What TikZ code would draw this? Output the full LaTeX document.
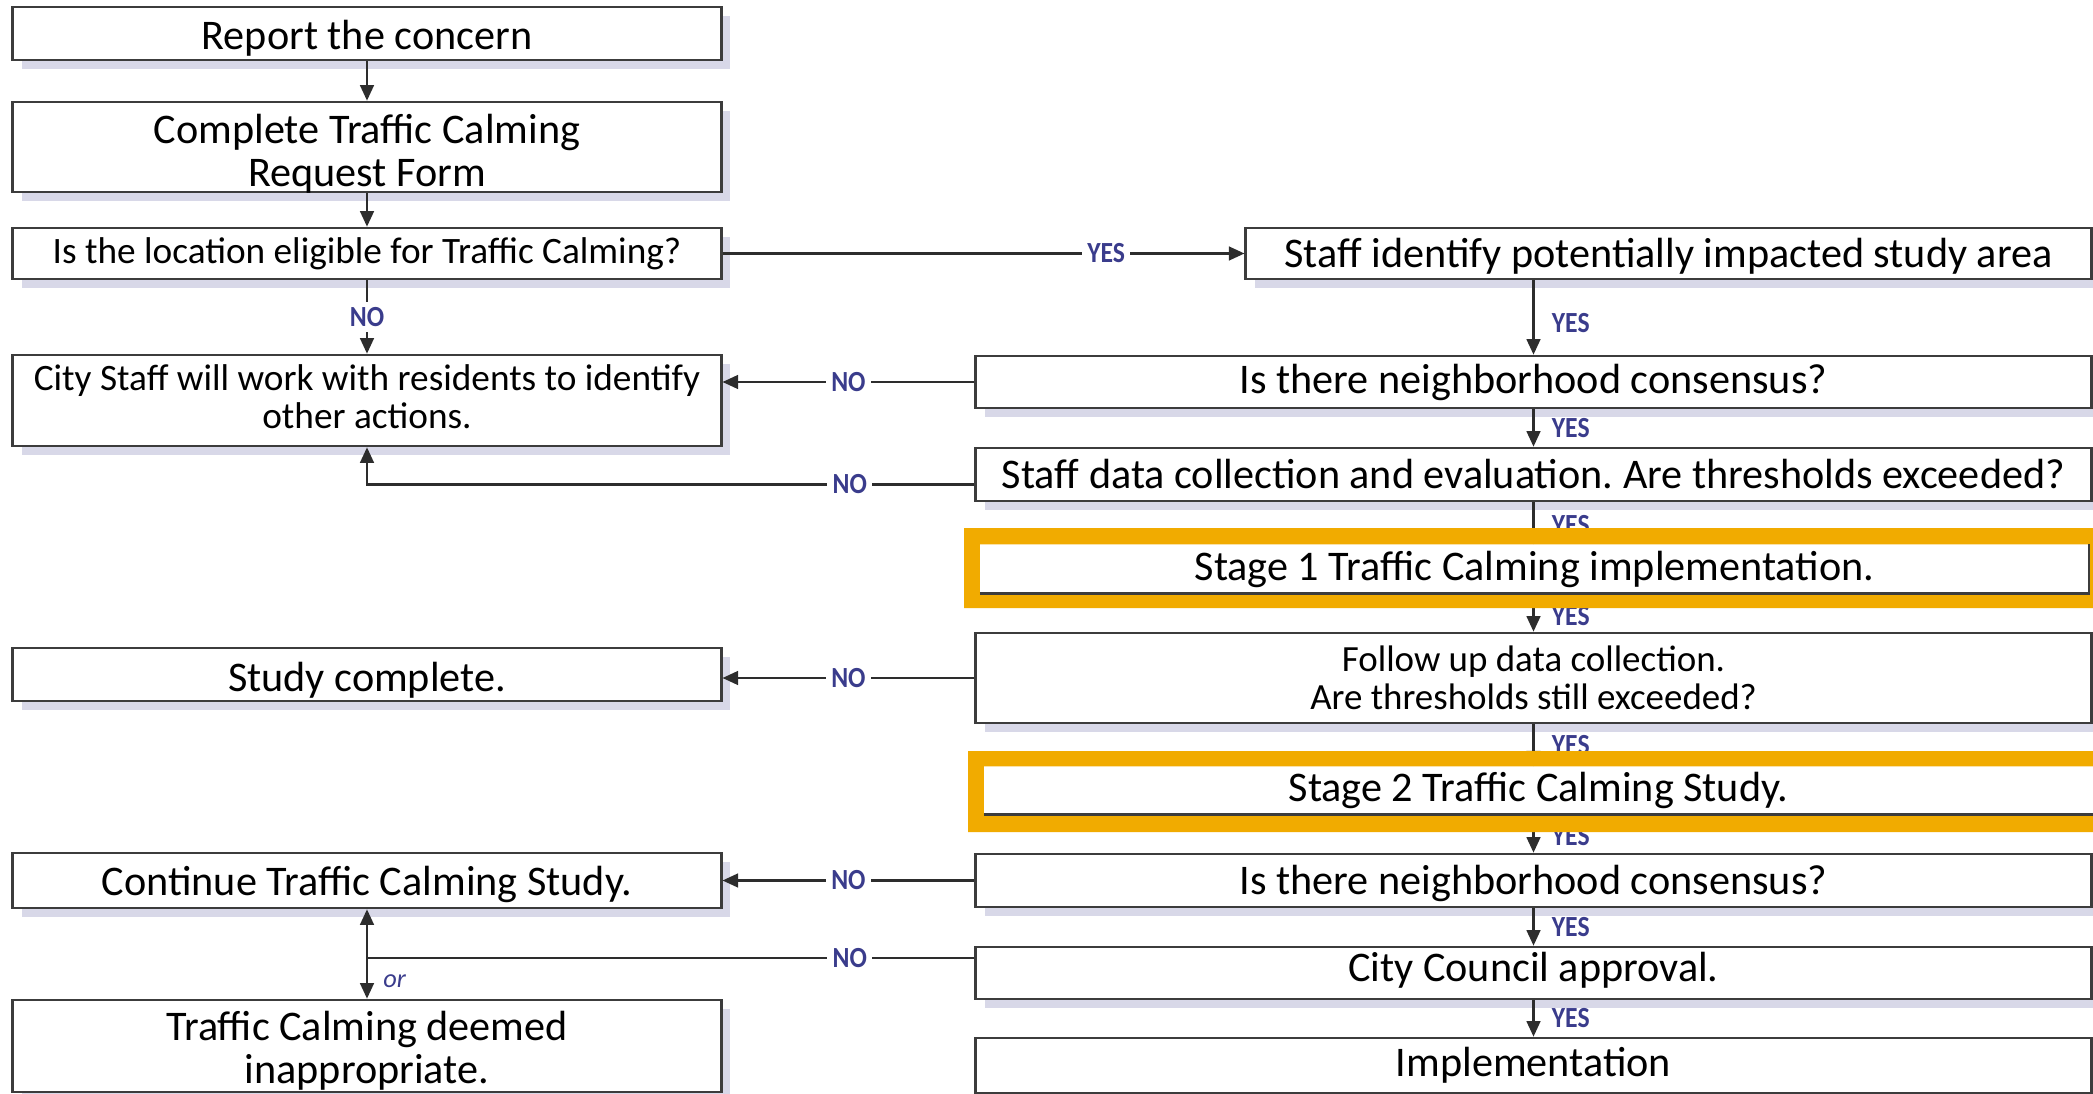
\documentclass[tikz,border=0pt]{standalone}
\usepackage{fontspec}
\setmainfont{Carlito}
\newfontfamily\labfont[FakeStretch=0.88]{Carlito}
\usetikzlibrary{arrows.meta,shadows}
\definecolor{bordc}{RGB}{60,60,60}
\definecolor{linec}{RGB}{45,45,45}
\definecolor{shadowc}{RGB}{216,216,232}
\definecolor{labc}{RGB}{58,60,140}
\definecolor{orangec}{RGB}{241,171,0}
\newcommand{\lw}[2]{\raisebox{#1}[\height][\depth]{#2}}
\frenchspacing
\begin{document}
\begin{tikzpicture}[x=0.01cm,y=-0.01cm,
  box/.style={draw=bordc, line width=0.75pt, fill=white, inner sep=0pt, align=center,
    general shadow={fill=shadowc, shadow xshift=0.09cm, shadow yshift=-0.09cm}},
  big/.style={font=\fontsize{12}{12.3}\selectfont},
  small/.style={font=\fontsize{10.6}{10.7}\selectfont},
  conn/.style={draw=linec, line width=0.6pt},
  arr/.style={conn, -{Triangle[length=4.4pt,width=3.9pt]}},
  lab/.style={text=labc, font=\fontsize{8.3}{9}\labfont\bfseries, inner sep=1.5pt},
  gap/.style={lab, fill=white},
  rlab/.style={lab, anchor=west, xshift=0.12cm},
  stagebox/.style={fill=white, inner sep=0pt, font=\fontsize{12}{12.3}\selectfont},
]
\useasboundingbox (0,0) rectangle (2093,1094);
\clip (0,0) rectangle (2093,1094);

% left column
\node[box,big,minimum width=7.08cm,minimum height=0.53cm] (b1) at (367,33.5) {\lw{-0.05cm}{Report the concern}};
\node[box,big,minimum width=7.08cm,minimum height=0.90cm] (b2) at (367,147) {\lw{-0.065cm}{Complete Traffic Calming}\\\lw{-0.065cm}{Request Form}};
\node[box,small,minimum width=7.08cm,minimum height=0.51cm] (b3) at (367,253.5) {Is the location eligible for Traffic Calming?};
\node[box,small,minimum width=7.08cm,minimum height=0.91cm] (b4) at (367,400.5) {\lw{0.04cm}{City Staff will work with residents to identify}\\\lw{0.04cm}{other actions.}};
\node[box,big,minimum width=7.08cm,minimum height=0.53cm] (bs) at (367,674.5) {\lw{-0.06cm}{Study complete.}};
\node[box,big,minimum width=7.08cm,minimum height=0.55cm] (bc) at (367,880.5) {\lw{-0.04cm}{Continue Traffic Calming Study.}};
\node[box,big,minimum width=7.08cm,minimum height=0.92cm] (bt) at (367,1046) {\lw{-0.05cm}{Traffic Calming deemed}\\\lw{-0.05cm}{inappropriate.}};

% right column
\node[box,big,minimum width=8.45cm,minimum height=0.51cm] (b5) at (1668.5,253.5) {\lw{-0.025cm}{Staff identify potentially impacted study area}};
\node[box,big,minimum width=11.15cm,minimum height=0.52cm] (b6) at (1533.5,382) {Is there neighborhood consensus?};
\node[box,big,minimum width=11.15cm,minimum height=0.53cm] (b7) at (1533.5,474.5) {Staff data collection and evaluation. Are thresholds exceeded?};
\node[stagebox,minimum width=11.07cm,minimum height=0.48cm] (s1) at (1534.5,569) {Stage 1 Traffic Calming implementation.};
\node[box,font=\fontsize{10.5}{10.8}\selectfont,minimum width=11.15cm,minimum height=0.90cm] (fu) at (1533.5,678) {Follow up data collection.\\Are thresholds still exceeded?};
\node[stagebox,minimum width=11.07cm,minimum height=0.47cm] (s2) at (1538.5,790.5) {Stage 2 Traffic Calming Study.};
\node[box,big,minimum width=11.15cm,minimum height=0.53cm] (b8) at (1533.5,880.5) {\lw{-0.025cm}{Is there neighborhood consensus?}};
\node[box,big,minimum width=11.15cm,minimum height=0.52cm] (b9) at (1533.5,973) {\lw{0.025cm}{City Council approval.}};
\node[box,big,minimum width=11.15cm,minimum height=0.55cm] (b10) at (1533.5,1065.5) {Implementation};

% connectors
\draw[arr] (b1) -- (b2);
\draw[arr] (b2) -- (b3);
\draw[arr] (b3) -- node[gap]{NO} (b4);
\draw[arr] (b3) -- node[gap,pos=0.735]{YES} (b5);
\draw[arr] (b5.south -| b6.north) -- node[rlab,pos=0.58]{YES} (b6.north);
\draw[arr] (b6.west) -- node[gap]{NO} (b6.west -| b4.east);
\draw[arr] (b6) -- node[rlab]{YES} (b7);
\draw[arr] ([yshift=-0.1cm]b7.west) -- node[gap,pos=0.205]{NO} ([yshift=-0.1cm]b7.west -| b4.south) -- (b4.south);
\draw[arr] (b7.south) -- node[rlab,pos=0.53]{YES} (b7.south |- s1.north);
\draw[arr] (s1.south -| b7.south) -- node[rlab,pos=0.6]{YES} (fu.north);
\draw[arr] (fu.west) -- node[gap]{NO} (fu.west -| bs.east);
\draw[arr] (fu.south) -- node[rlab]{YES} (fu.south |- s2.north);
\draw[arr] (s2.south -| fu.south) -- node[rlab,pos=0.55]{YES} (b8.north);
\draw[arr] (b8.west) -- node[gap]{NO} (b8.west -| bc.east);
\draw[arr] (b8) -- node[rlab]{YES} (b9);
\draw[conn] ([yshift=0.15cm]b9.west) -- node[gap,pos=0.205]{NO} ([yshift=0.15cm]b9.west -| bc.south);
\draw[conn, {Triangle[length=4.4pt,width=3.9pt]}-{Triangle[length=4.4pt,width=3.9pt]}] (bc) -- node[lab, pos=0.8, anchor=west, xshift=0.1cm, font=\fontsize{7.5}{8}\selectfont\itshape]{or} (bt);
\draw[arr] (b9) -- node[rlab]{YES} (b10);

% orange highlight frames
\fill[orangec, even odd rule] (964,528) rectangle (2110,608) (s1.north west) rectangle (s1.south east);
\draw[bordc, line width=0.75pt] (s1.south west) -- (s1.south east) -- (s1.north east);
\fill[orangec, even odd rule] (968,751) rectangle (2110,832) (s2.north west) rectangle (s2.south east);
\draw[bordc, line width=0.75pt] (s2.south west) -- (s2.south east);
\end{tikzpicture}
\end{document}
